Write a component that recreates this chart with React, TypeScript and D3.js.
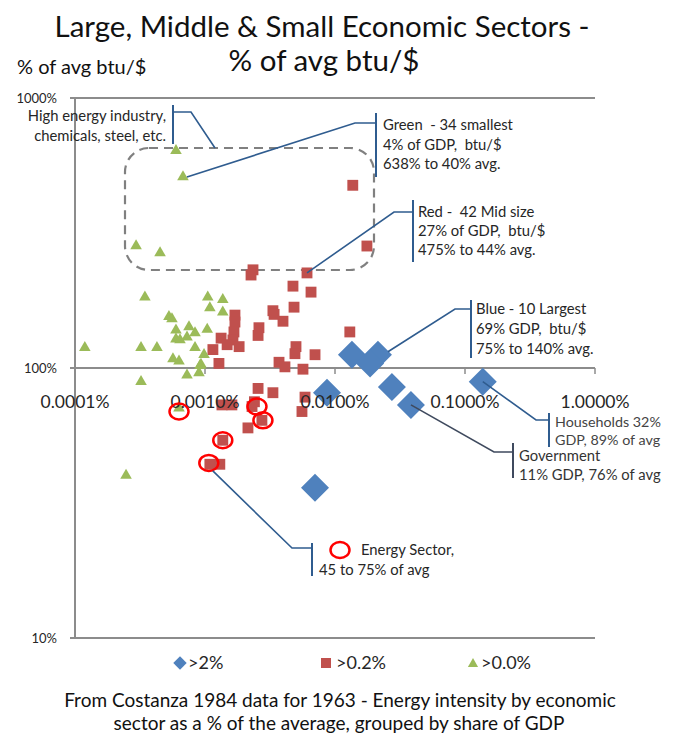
import React from 'react';
import * as d3 from 'd3';

// ---- Data (x: share of GDP in %, y: energy intensity as % of average btu/$) ----
const largeShare = [0.0135, 0.0214, 0.0186, 0.00868, 0.0274, 0.0384, 0.137, 0.00702];
const largeIntensity = [112, 112, 104, 81, 85, 73, 89, 36];

const middleShare = [
  0.00234, 0.00226, 0.00609, 0.00475, 0.00654, 0.00484, 0.00333, 0.0034, 0.00398, 0.0026,
  0.00256, 0.0017, 0.0017, 0.00167, 0.00164, 0.00133, 0.00148, 0.00183, 0.00115, 0.00128,
  0.00501, 0.00492, 0.00702, 0.00371, 0.00412, 0.00567, 0.013, 0.0137, 0.0176, 0.00256,
  0.00333, 0.00135, 0.00161, 0.0023, 0.00557, 0.00588, 0.00274, 0.00214, 0.00137, 0.00109,
  0.0013, 0.0024,
];
const middleIntensity = [
  231, 221, 225, 201, 191, 168, 163, 158, 149, 141,
  132, 157, 148, 136, 127, 129, 122, 120, 117, 104,
  120, 113, 112, 105, 101, 99, 136, 475, 283, 84,
  81, 73, 73, 72, 69, 78, 64, 60, 54, 44,
  44, 75,
];

const smallShare = [
  0.000598, 0.000677, 0.000295, 0.000451, 0.000345, 0.00105, 0.00137, 0.00109, 0.00137, 0.000528,
  0.000557, 0.000753, 0.000598, 0.00104, 0.000838, 0.000727, 0.000598, 0.000642, 0.000322, 0.000427,
  0.000838, 0.000983, 0.000567, 0.000631, 0.000931, 0.000727, 0.000899, 0.000322, 0.000119, 0.000247,
  0.000631, 0.000915,
];
const smallIntensity = [
  638, 510, 283, 267, 183, 183, 179, 167, 161, 155,
  152, 142, 138, 139, 135, 130, 128, 127, 119, 119,
  119, 112, 108, 106, 103, 94, 96, 89, 119, 40,
  71, 102,
];

const energyShare = [0.000631, 0.00251, 0.00279, 0.00137, 0.00107];
const energyIntensity = [69, 72, 64, 54, 44.5];

const xTicks = [0.0001, 0.001, 0.01, 0.1, 1];
const xTickLabels = ['0.0001%', '0.0010%', '0.0100%', '0.1000%', '1.0000%'];
const yTicks = [10, 100, 1000];
const yTickLabels = ['10%', '100%', '1000%'];
const legendLabels = ['>2%', '>0.2%', '>0.0%'];

const titleLines = ['Large, Middle & Small Economic Sectors -', '% of avg btu/$'];
const yAxisTitle = '% of avg btu/$';
const footerLines = [
  'From Costanza 1984 data for 1963 - Energy intensity by economic',
  'sector as a % of the average, grouped by share of GDP',
];
const greenNote = ['Green  - 34 smallest', '4% of GDP,  btu/$', '638% to 40% avg.'];
const redNote = ['Red -  42 Mid size', '27% of GDP,  btu/$', '475% to 44% avg.'];
const blueNote = ['Blue - 10 Largest', '69% GDP,  btu/$', '75% to 140% avg.'];
const householdNote = ['Households 32%', 'GDP, 89% of avg'];
const governmentNote = ['Government', '11% GDP, 76% of avg'];
const highEnergyNote = ['High energy industry,', 'chemicals, steel, etc.'];
const energyNote = ['Energy Sector,', '45 to 75% of avg'];

const FONT = "Lato, 'Open Sans', sans-serif";
const BLUE = '#4F81BD';
const RED = '#C0504D';
const GREEN = '#9BBB59';
const AXIS = '#8C8C8C';
const NOTE = '#2F5C8F';
const TEXT = '#262626';

export default function App() {
  const W = 679;
  const H = 738;
  const x = d3.scaleLog().domain([0.0001, 1]).range([75, 595]);
  const y = d3.scaleLog().domain([10, 1000]).range([638, 98]);

  const diamond = d3.symbol(d3.symbolSquare, 392)() as string;
  const square = d3.symbol(d3.symbolSquare, 118)() as string;
  const triangle = d3.symbol(d3.symbolTriangle, 58)() as string;
  const legDiamond = d3.symbol(d3.symbolSquare, 90)() as string;
  const legSquare = d3.symbol(d3.symbolSquare, 100)() as string;
  const legTriangle = d3.symbol(d3.symbolTriangle, 45)() as string;

  const large = largeShare.map((v, i) => ({ x: x(v), y: y(largeIntensity[i]) }));
  const middle = middleShare.map((v, i) => ({ x: x(v), y: y(middleIntensity[i]) }));
  const small = smallShare.map((v, i) => ({ x: x(v), y: y(smallIntensity[i]) }));
  const energy = energyShare.map((v, i) => ({ x: x(v), y: y(energyIntensity[i]) }));

  const boxPath = (() => {
    const p = d3.path();
    const x0 = 125, y0 = 148, x1 = 374, y1 = 270, r = 24;
    p.moveTo(x0 + r, y0);
    p.lineTo(x1 - r, y0);
    p.arcTo(x1, y0, x1, y0 + r, r);
    p.lineTo(x1, y1 - r);
    p.arcTo(x1, y1, x1 - r, y1, r);
    p.lineTo(x0 + r, y1);
    p.arcTo(x0, y1, x0, y1 - r, r);
    p.lineTo(x0, y0 + r);
    p.arcTo(x0, y0, x0 + r, y0, r);
    p.closePath();
    return p.toString();
  })();

  const noteLine = d3.line();

  return (
    <svg
      width={W}
      height={H}
      viewBox={`0 0 ${W} ${H}`}
      style={{ position: 'absolute', left: 0, top: 0, background: '#fff' }}
      fontFamily={FONT}
    >
      <rect width={W} height={H} fill="#fff" />

      {/* Titles */}
      <text x={322} y={37} textAnchor="middle" fontSize={29.5} fill="#111">{titleLines[0]}</text>
      <text x={324} y={71} textAnchor="middle" fontSize={29.5} fill="#111">{titleLines[1]}</text>
      <text x={17} y={74} fontSize={20} fill="#111">{yAxisTitle}</text>

      {/* Horizontal lines at 10% / 100% / 1000% */}
      {yTicks.map((t) => (
        <line key={'h' + t} x1={70} x2={x(1)} y1={y(t)} y2={y(t)} stroke={AXIS} strokeWidth={2} />
      ))}
      {/* Vertical axis */}
      <line x1={x(0.0001)} x2={x(0.0001)} y1={y(1000)} y2={y(10)} stroke={AXIS} strokeWidth={2} />
      {/* x ticks on the 100% axis */}
      {xTicks.map((t) => (
        <line key={'xt' + t} x1={x(t)} x2={x(t)} y1={y(100)} y2={y(100) + 6} stroke={AXIS} strokeWidth={1.5} />
      ))}
      {yTickLabels.map((lab, i) => (
        <text key={lab} x={57} y={y(yTicks[i]) + 4.5} textAnchor="end" fontSize={13} fill={TEXT}>{lab}</text>
      ))}

      {/* Dashed box */}
      <path d={boxPath} fill="none" stroke="#808080" strokeWidth={2.2} strokeDasharray="9 6" />

      {/* Series */}
      {large.map((p, i) => (
        <path key={'b' + i} d={diamond} transform={`translate(${p.x},${p.y}) rotate(45)`} fill={BLUE} />
      ))}
      {middle.map((p, i) => (
        <path key={'r' + i} d={square} transform={`translate(${p.x},${p.y})`} fill={RED} />
      ))}
      {small.map((p, i) => (
        <path key={'g' + i} d={triangle} transform={`translate(${p.x},${p.y})`} fill={GREEN} />
      ))}

      {/* x tick labels (drawn over the points as in the original) */}
      {xTickLabels.map((lab, i) => (
        <text key={lab} x={x(xTicks[i])} y={408} textAnchor="middle" fontSize={17.5} fill={TEXT}>{lab}</text>
      ))}

      {/* Energy sector circles */}
      {energy.map((p, i) => (
        <ellipse key={'e' + i} cx={p.x} cy={p.y} rx={9.5} ry={8} fill="none" stroke="#FF0000" strokeWidth={2.5} />
      ))}

      {/* Annotation leaders */}
      <g fill="none" stroke={NOTE} strokeWidth={1.6}>
        <path d={noteLine([[173, 105], [173, 144]])!} strokeWidth={2} />
        <path d={noteLine([[173, 112], [191, 112], [215, 148]])!} />
        <path d={noteLine([[376, 113], [376, 177]])!} strokeWidth={2} />
        <path d={noteLine([[376, 123], [355, 123], [small[1].x + 4, small[1].y]])!} />
        <path d={noteLine([[413, 200], [413, 262]])!} strokeWidth={2} />
        <path d={noteLine([[413, 212], [394, 212], [middle[2].x, middle[2].y]])!} />
        <path d={noteLine([[471, 300], [471, 358]])!} strokeWidth={2} />
        <path d={noteLine([[471, 309], [455, 309], [large[1].x + 10, large[1].y - 3]])!} />
        <path d={noteLine([[549, 413], [549, 447]])!} strokeWidth={2} />
        <path d={noteLine([[large[6].x, large[6].y], [536, 420], [549, 420]])!} />
        <path d={noteLine([[312, 543], [312, 576]])!} strokeWidth={2} />
        <path d={noteLine([[energy[4].x + 4, energy[4].y + 8], [292, 548], [312, 548]])!} />
      </g>
      <g fill="none" stroke="#3F4A5E" strokeWidth={1.6}>
        <path d={noteLine([[513, 443], [513, 478]])!} strokeWidth={2} />
        <path d={noteLine([[large[5].x, large[5].y], [494, 452], [513, 452]])!} />
      </g>

      <g fontSize={14.8} fill={TEXT}>
        {highEnergyNote.map((t, i) => (
          <text key={t} x={166} y={121 + i * 20} textAnchor="end" xmlSpace="preserve">{t}</text>
        ))}
        {greenNote.map((t, i) => (
          <text key={t} x={383} y={130 + i * 19.5} xmlSpace="preserve">{t}</text>
        ))}
        {redNote.map((t, i) => (
          <text key={t} x={418} y={217 + i * 19} xmlSpace="preserve">{t}</text>
        ))}
        {blueNote.map((t, i) => (
          <text key={t} x={476} y={314 + i * 20} xmlSpace="preserve">{t}</text>
        ))}
        {householdNote.map((t, i) => (
          <text key={t} x={555} y={427 + i * 17.5} fill="#444" fontSize={14.3}>{t}</text>
        ))}
        {governmentNote.map((t, i) => (
          <text key={t} x={519} y={461 + i * 18.5} fill="#333">{t}</text>
        ))}
        <text x={361} y={555}>{energyNote[0]}</text>
        <text x={319} y={575}>{energyNote[1]}</text>
      </g>
      <ellipse cx={340} cy={550} rx={9.5} ry={8} fill="none" stroke="#FF0000" strokeWidth={2.5} />

      {/* Legend */}
      <path d={legDiamond} transform="translate(180,663) rotate(45)" fill={BLUE} />
      <text x={188} y={669} fontSize={18} fill={TEXT}>{legendLabels[0]}</text>
      <path d={legSquare} transform="translate(326,663)" fill={RED} />
      <text x={336} y={669} fontSize={18} fill={TEXT}>{legendLabels[1]}</text>
      <path d={legTriangle} transform="translate(473,664)" fill={GREEN} />
      <text x={481} y={669} fontSize={18} fill={TEXT}>{legendLabels[2]}</text>

      {/* Footer */}
      <text x={340} y={707} textAnchor="middle" fontSize={19} fill="#111">{footerLines[0]}</text>
      <text x={339} y={730} textAnchor="middle" fontSize={19} fill="#111">{footerLines[1]}</text>
    </svg>
  );
}
